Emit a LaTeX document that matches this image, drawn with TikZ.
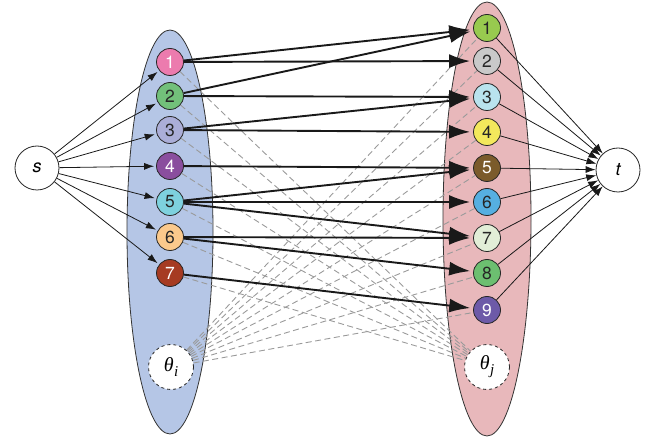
\documentclass[tikz,border=0pt]{standalone}
\usepackage{fontspec}
\setsansfont{TeX Gyre Heros}
\newfontfamily\thfont{Liberation Serif}
\usetikzlibrary{arrows.meta,shapes.geometric}
\pgfdeclarelayer{bg}
\pgfdeclarelayer{edges}
\pgfsetlayers{bg,edges,main}
\definecolor{ellL}{HTML}{B5C6E6}
\definecolor{ellR}{HTML}{E8B8BB}
\definecolor{cLa}{HTML}{EC7BAE}
\definecolor{cLb}{HTML}{72C07A}
\definecolor{cLc}{HTML}{ABAED8}
\definecolor{cLd}{HTML}{8A4E9E}
\definecolor{cLe}{HTML}{7ED1DE}
\definecolor{cLf}{HTML}{FBC98C}
\definecolor{cLg}{HTML}{A63B22}
\definecolor{cRa}{HTML}{98CA4F}
\definecolor{cRb}{HTML}{C9C9C9}
\definecolor{cRc}{HTML}{B9E3EE}
\definecolor{cRd}{HTML}{F3E85C}
\definecolor{cRe}{HTML}{7B5B2B}
\definecolor{cRf}{HTML}{56AFE1}
\definecolor{cRg}{HTML}{E2EED7}
\definecolor{cRh}{HTML}{6CBF70}
\definecolor{cRi}{HTML}{6D5AA8}
\definecolor{dashgray}{HTML}{9A9A9A}
\newcommand{\thlab}[1]{{\thfont\itshape\fontsize{20}{20}\selectfont θ\kern0.5pt\raisebox{-5pt}{\fontsize{15}{15}\selectfont #1}}}
\begin{document}
\begin{tikzpicture}[x=1pt,y=-1pt,
  num/.style={circle,draw=black!85,line width=0.8pt,minimum size=27pt,inner sep=0pt,
    font=\sffamily\fontsize{17.5}{17.5}\selectfont,text=black!85},
  wnum/.style={num,text=white},
  endnode/.style={circle,draw=black!85,line width=0.8pt,minimum size=44pt,inner sep=0pt,fill=white,
    font=\sffamily\itshape\fontsize{18}{18}\selectfont},
  thetanode/.style={circle,draw=black!85,line width=0.8pt,dashed,minimum size=45pt,inner sep=0pt,fill=white},
  ellbox/.style={ellipse,draw=black!80,line width=0.8pt,inner sep=0pt},
  thinarrow/.style={draw=black!90,line width=0.8pt,-{Latex[length=10pt,width=7pt]}},
  thickarrow/.style={draw=black!90,line width=1.9pt,-{Latex[length=21pt,width=14pt]},shorten >=3pt},
  dashline/.style={draw=dashgray,line width=0.9pt,dash pattern=on 6pt off 3.5pt}
]
\useasboundingbox (0,0) rectangle (645,438);

\begin{pgfonlayer}{bg}
  \node[ellbox,fill=ellL,minimum width=86pt,minimum height=404pt] (EL) at (170,232) {};
  \node[ellbox,fill=ellR,minimum width=88pt,minimum height=434pt] (ER) at (487,219) {};
\end{pgfonlayer}

\node[endnode] (s) at (37,168) {s};
\node[endnode] (t) at (618,170) {t};

\node[num,fill=cLa,text=white] (L1) at (170,62) {1};
\node[num,fill=cLb] (L2) at (170,96) {2};
\node[num,fill=cLc] (L3) at (170,130) {3};
\node[wnum,fill=cLd] (L4) at (170,166) {4};
\node[num,fill=cLe] (L5) at (170,202) {5};
\node[num,fill=cLf] (L6) at (170,237) {6};
\node[wnum,fill=cLg] (L7) at (170,273) {7};

\node[num,fill=cRa] (R1) at (487,28) {1};
\node[num,fill=cRb] (R2) at (487,61) {2};
\node[num,fill=cRc] (R3) at (487,97) {3};
\node[num,fill=cRd] (R4) at (487,132) {4};
\node[wnum,fill=cRe] (R5) at (487,168) {5};
\node[num,fill=cRf] (R6) at (487,202) {6};
\node[num,fill=cRg] (R7) at (487,238) {7};
\node[num,fill=cRh] (R8) at (487,273) {8};
\node[wnum,fill=cRi] (R9) at (487,310) {9};

\node[thetanode] (thi) at (171,367) {\thlab{i}};
\node[thetanode] (thj) at (487,367) {\thlab{j}};

\begin{pgfonlayer}{edges}
  \foreach \i in {1,...,7} {
    \draw[dashline] (L\i) -- (thj);
    \draw[thinarrow,shorten >=2pt] (s) -- (L\i);
  }
  \foreach \j in {1,...,9} {
    \draw[dashline] (thi) -- (R\j);
    \draw[thinarrow] (R\j) -- (t);
  }
  \draw[thickarrow] (L1) -- (R1);
  \draw[thickarrow] (L1) -- (R2);
  \draw[thickarrow] (L2) -- (R1);
  \draw[thickarrow] (L2) -- (R3);
  \draw[thickarrow] (L3) -- (R3);
  \draw[thickarrow] (L3) -- (R4);
  \draw[thickarrow] (L4) -- (R5);
  \draw[thickarrow] (L5) -- (R5);
  \draw[thickarrow] (L5) -- (R6);
  \draw[thickarrow] (L5) -- (R7);
  \draw[thickarrow] (L6) -- (R7);
  \draw[thickarrow] (L6) -- (R8);
  \draw[thickarrow] (L7) -- (R9);
\end{pgfonlayer}
\end{tikzpicture}
\end{document}
